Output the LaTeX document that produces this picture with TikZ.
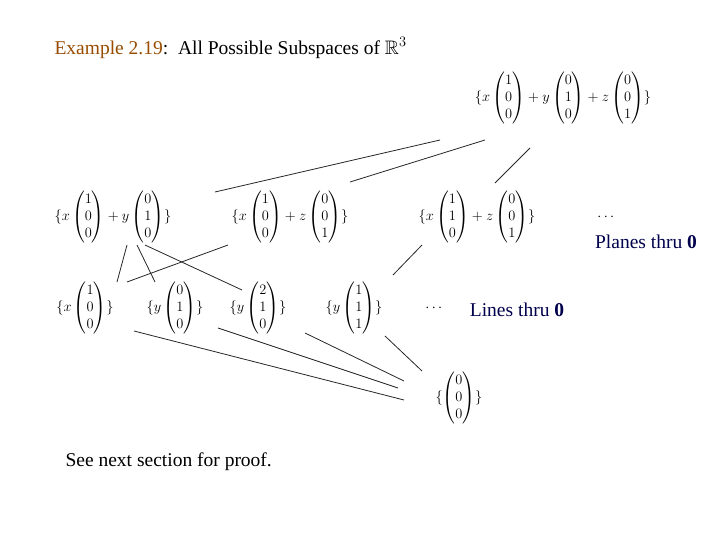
\documentclass[tikz,border=0pt]{standalone}
\usepackage{amsmath,amssymb}
\usepackage{fontspec}
\setmainfont{Liberation Serif}
\begin{document}
\begin{tikzpicture}[x=1pt,y=-1pt,
  vec/.style={font=\fontsize{14.5}{17}\selectfont},
  lbl/.style={font=\fontsize{19.5}{22}\selectfont, text=blue!30!black},
  txt/.style={anchor=west, font=\fontsize{19.5}{22}\selectfont},
  conn/.style={line width=0.8pt, black!85}]
\useasboundingbox (0,0) rectangle (720,540);
\newcommand{\cv}[3]{\begin{pmatrix}#1\\#2\\#3\end{pmatrix}}
\node[txt] (title) at (51,48)
  {\textcolor{orange!60!black}{Example 2.19}:\ \ All Possible Subspaces of $\mathbb{R}^3$};
\node[vec] (top) at (563,98) {$\{x\cv100+y\cv010+z\cv001\}$};
\node[vec] (p1) at (113,217) {$\{x\cv100+y\cv010\}$};
\node[vec] (p2) at (290,217) {$\{x\cv100+z\cv001\}$};
\node[vec] (p3) at (477,217) {$\{x\cv110+z\cv001\}$};
\node[vec] (pd) at (607,217) {$\cdots$};
\node[lbl] (pl) at (646,242) {Planes thru $\mathbf{0}$};
\node[vec] (l1) at (85,308) {$\{x\cv100\}$};
\node[vec] (l2) at (175,308) {$\{y\cv010\}$};
\node[vec] (l3) at (258,308) {$\{y\cv210\}$};
\node[vec] (l4) at (354,308) {$\{y\cv111\}$};
\node[vec] (ld) at (435,308) {$\cdots$};
\node[lbl] (ll) at (517,310) {Lines thru $\mathbf{0}$};
\node[vec] (z) at (459,398) {$\{\cv000\}$};
\node[txt] (see) at (62,462) {See next section for proof.};
% connector end points
\coordinate (a1) at (440,140); \coordinate (a2) at (215,192);
\coordinate (b1) at (485,140); \coordinate (b2) at (350,182);
\coordinate (c1) at (530,148); \coordinate (c2) at (495,183);
\coordinate (d1) at (127,245); \coordinate (d2) at (117,282);
\coordinate (e1) at (137,245); \coordinate (e2) at (155,282);
\coordinate (f1) at (145,245); \coordinate (f2) at (242,290);
\coordinate (g1) at (228,245); \coordinate (g2) at (127,282);
\coordinate (h1) at (422,245); \coordinate (h2) at (393,275);
\coordinate (i1) at (134,331); \coordinate (i2) at (404,400);
\coordinate (j1) at (218,328); \coordinate (j2) at (398,388);
\coordinate (k1) at (305,333); \coordinate (k2) at (404,381);
\coordinate (m1) at (385,336); \coordinate (m2) at (422,371);
\draw[conn] (a1) -- (a2);
\draw[conn] (b1) -- (b2);
\draw[conn] (c1) -- (c2);
\draw[conn] (d1) -- (d2);
\draw[conn] (e1) -- (e2);
\draw[conn] (f1) -- (f2);
\draw[conn] (g1) -- (g2);
\draw[conn] (h1) -- (h2);
\draw[conn] (i1) -- (i2);
\draw[conn] (j1) -- (j2);
\draw[conn] (k1) -- (k2);
\draw[conn] (m1) -- (m2);
\end{tikzpicture}
\end{document}
